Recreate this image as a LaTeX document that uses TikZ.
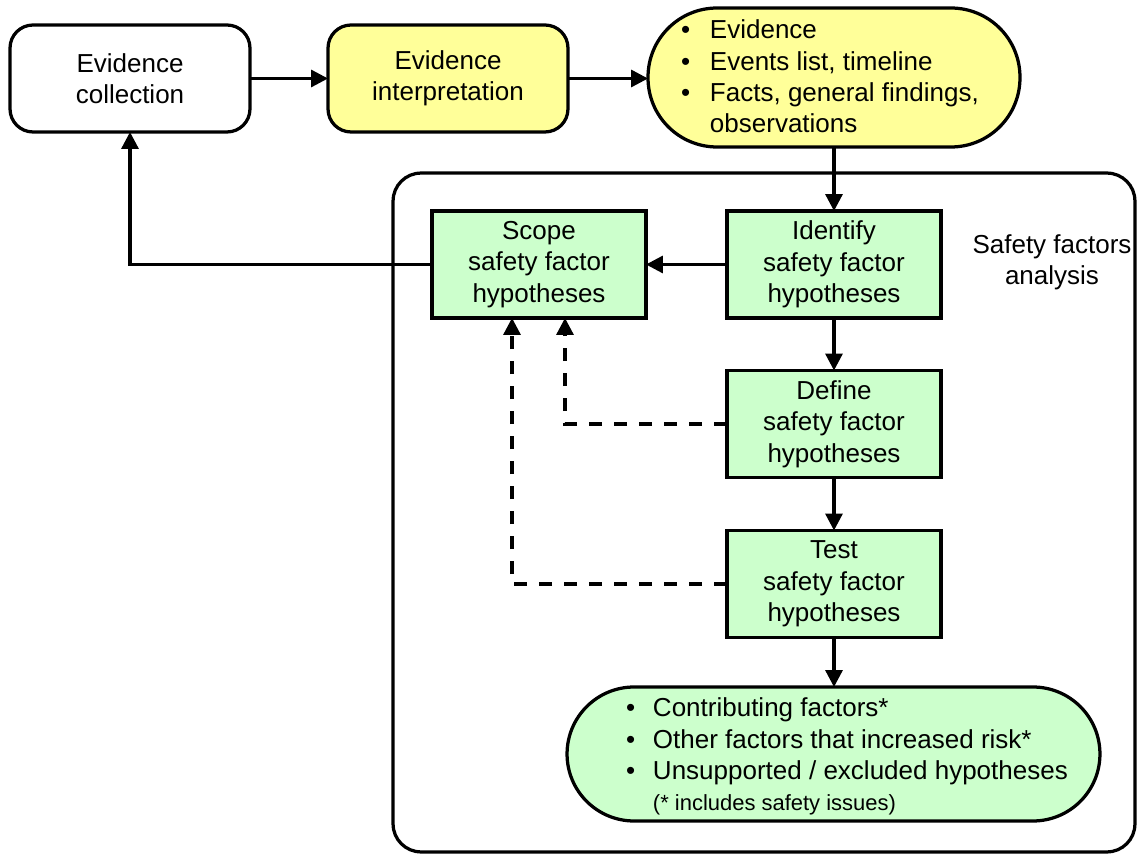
\documentclass[tikz,border=0pt]{standalone}
\usepackage{fontspec}
\setmainfont{Liberation Sans}
\usetikzlibrary{arrows.meta}
\definecolor{paleyellow}{RGB}{255,255,153}
\definecolor{palegreen}{RGB}{204,255,204}

\newcommand{\bul}[1]{\makebox[#1][l]{\textbullet}}

\begin{document}
\begin{tikzpicture}[x=0.02cm,y=-0.02cm,
  every node/.style={font=\fontsize{14.8}{17.9}\selectfont, inner sep=0pt, outer sep=0pt},
  conn/.style={line width=0.065cm, -{Triangle[length=0.34cm,width=0.34cm]}},
  hypo/.style={conn, dash pattern=on 0.26cm off 0.24cm},
  roundbox/.style={draw, line width=0.065cm, rounded corners=0.46cm,
    minimum width=4.8cm, minimum height=2.14cm, align=center},
  hypbox/.style={draw, line width=0.065cm, fill=palegreen,
    minimum width=4.28cm, minimum height=2.14cm, align=center},
  pill/.style={draw, line width=0.065cm}
]
\useasboundingbox (0,0) rectangle (1137,854);

% analysis frame
\node[draw, line width=0.065cm, rounded corners=0.56cm,
  minimum width=14.84cm, minimum height=13.58cm] (sfa) at (764,512.5) {};
\node[align=center] (sfalabel) at (1052,262.5) {Safety factors\\analysis};

% evidence stage
\node[roundbox, fill=white] (coll) at (130,78.5) {Evidence\\collection};
\node[roundbox, fill=paleyellow] (interp) at (448,78.5) {Evidence\\interpretation};
\node[pill, fill=paleyellow, rounded corners=1.38cm,
  minimum width=7.44cm, minimum height=2.78cm] (facts) at (834,77.5) {};
\node[anchor=base west, align=left] (factstext) at (681,133)
  {\bul{0.58cm}Evidence\\
   \bul{0.58cm}Events list, timeline\\
   \bul{0.58cm}Facts, general findings,\\
   \hspace*{0.58cm}observations};

% hypothesis steps
\node[hypbox] (scope) at (539,264.5) {Scope\\safety factor\\hypotheses};
\node[hypbox] (ident) at (834,264.5) {Identify\\safety factor\\hypotheses};
\node[hypbox] (define) at (834,424) {Define\\safety factor\\hypotheses};
\node[hypbox] (test) at (834,584) {Test\\safety factor\\hypotheses};

% outcomes
\node[pill, fill=palegreen, rounded corners=1.34cm,
  minimum width=10.66cm, minimum height=2.68cm] (outcomes) at (833.5,754) {};
\node[anchor=base west, align=left] (outtext) at (626,811)
  {\bul{0.54cm}Contributing factors*\\
   \bul{0.54cm}Other factors that increased risk*\\
   \bul{0.54cm}Unsupported / excluded hypotheses\\
   \hspace*{0.54cm}{\fontsize{12.5}{17.9}\selectfont (* includes safety issues)}};

% connectors
\draw[conn] (coll.east) -- (interp.west);
\draw[conn] (interp.east) -- (facts.west |- interp.east);
\draw[conn] (facts.south) -- (ident.north);
\draw[conn] (ident.west) -- (scope.east);
\draw[conn] (ident.south) -- (define.north);
\draw[conn] (define.south) -- (test.north);
\draw[conn] (test.south) -- (test.south |- outcomes.north);
\draw[conn] (scope.west) -| (coll.south);
\draw[hypo] (define.west) -| ([xshift=0.52cm]scope.south);
\draw[hypo] (test.west) -| ([xshift=-0.54cm]scope.south);
\end{tikzpicture}
\end{document}
